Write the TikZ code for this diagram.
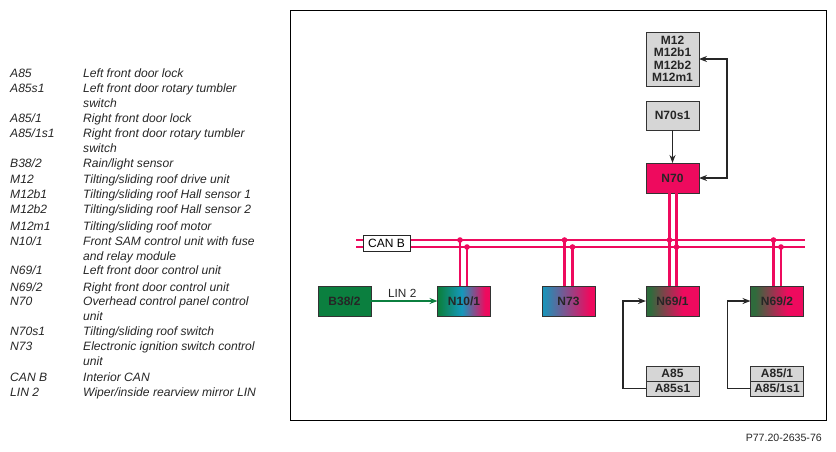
\documentclass[tikz,border=0pt]{standalone}
\usepackage{fontspec}
\setmainfont{Liberation Sans}
\usepackage{xcolor}
\usetikzlibrary{positioning,calc,arrows.meta}

\definecolor{canpink}{HTML}{EE0A5E}
\definecolor{lingreen}{HTML}{0B7F3F}
\definecolor{midteal}{HTML}{1598BC}
\definecolor{darkgreen}{HTML}{2F6B3C}
\definecolor{unitgray}{HTML}{D6D6D6}

\pgfdeclarehorizontalshading{samshade}{100bp}{color(0bp)=(lingreen); color(26bp)=(lingreen); color(48bp)=(midteal); color(70bp)=(canpink); color(100bp)=(canpink)}
\pgfdeclarehorizontalshading{ignshade}{100bp}{color(0bp)=(midteal); color(25bp)=(midteal); color(70bp)=(canpink); color(100bp)=(canpink)}
\pgfdeclarehorizontalshading{doorshade}{100bp}{color(0bp)=(darkgreen); color(29bp)=(darkgreen); color(60bp)=(canpink); color(100bp)=(canpink)}

\begin{document}
\begin{tikzpicture}[x=1pt, y=-1pt, >={Stealth[length=8pt,width=6pt]},
    box/.style={draw=black!80, line width=1pt, inner sep=0pt, outer sep=0pt, minimum width=53pt, align=center, font=\fontsize{12}{12.4}\selectfont\bfseries, text=black!85},
    unit/.style={box, fill=unitgray},
    ctrl/.style={box, minimum height=30pt},
    half/.style={unit, minimum height=15pt},
    bus/.style={canpink, line width=2.1pt},
    link/.style={black!85, line width=1.3pt},
    legend/.style={anchor=north west, inner sep=0pt, align=left, font=\fontsize{12.1}{14.6}\selectfont\itshape, text=black!85}]
\useasboundingbox (0,0) rectangle (836,451);

\node[draw, line width=1pt, inner sep=0pt, minimum width=536pt, minimum height=410pt] (panel) at (558.5,215) {};

% legend
\foreach \key/\desc/\ypos [count=\i] in {
    A85/Left front door lock/68.5,
    A85s1/{Left front door rotary tumbler\\switch}/83.5,
    A85\slash 1/Right front door lock/113.5,
    A85\slash 1s1/{Right front door rotary tumbler\\switch}/128.5,
    B38\slash 2/Rain\slash light sensor/159,
    M12/Tilting\slash sliding roof drive unit/174.5,
    M12b1/Tilting\slash sliding roof Hall sensor 1/190,
    M12b2/Tilting\slash sliding roof Hall sensor 2/204.5,
    M12m1/Tilting\slash sliding roof motor/221.5,
    N10\slash 1/{Front SAM control unit with fuse\\and relay module}/237,
    N69\slash 1/Left front door control unit/266,
    N69\slash 2/Right front door control unit/282.5,
    N70/{Overhead control panel control\\unit}/297,
    N70s1/Tilting\slash sliding roof switch/327,
    N73/{Electronic ignition switch control\\unit}/342,
    CAN B/Interior CAN/372.5,
    LIN 2/Wiper\slash inside rearview mirror LIN/388} {
  \node[legend] (key\i) at (10,\ypos) {\key};
  \node[legend] (desc\i) at (83,\ypos) {\desc};
}

% control units
\node[ctrl, fill=canpink] (N70) at (672.5,178) {N70};
\node[unit, minimum height=29pt, above=33pt of N70] (N70s1) {N70s1};
\node[unit, minimum height=54pt, above=15pt of N70s1] (M12) {M12\\M12b1\\M12b2\\M12m1};
\node[ctrl, shading=doorshade, below=93pt of N70] (N691) {N69/1};
\node[ctrl, shading=doorshade, right=51.5pt of N691] (N692) {N69/2};
\node[ctrl, shading=ignshade, left=51pt of N691] (N73) {N73};
\node[ctrl, shading=samshade, left=51.5pt of N73] (N101) {N10/1};
\node[ctrl, fill=lingreen, left=66.5pt of N101] (B38) {B38/2};

% door switches
\node[half, below=50pt of N691] (A85) {A85};
\node[half, below=0pt of A85] (A85s1) {A85s1};
\node[half, below=50pt of N692] (A851) {A85/1};
\node[half, below=0pt of A851] (A851s1) {A85/1s1};

% CAN B
\coordinate (canaw) at (356,240);
\coordinate (canae) at (805,240);
\coordinate (canbw) at (356,247);
\coordinate (canbe) at (805,247);
\draw[bus] (canaw) -- (canae);
\draw[bus] (canbw) -- (canbe);
\node[draw=black!85, fill=white, line width=1pt, inner sep=0pt, minimum width=47pt, minimum height=16pt, font=\fontsize{12}{12}\selectfont] (canb) at (386.5,243.5) {CAN B};

\foreach \unit/\ashift/\bshift in {N101/-4/3, N73/-4/4, N692/-3.5/4} {
  \draw[bus] ([xshift=\ashift]\unit.north) -- ([xshift=\ashift]\unit.north |- canaw);
  \draw[bus] ([xshift=\bshift]\unit.north) -- ([xshift=\bshift]\unit.north |- canbw);
  \fill[canpink] ([xshift=\ashift]\unit.north |- canaw) circle (2.8);
  \fill[canpink] ([xshift=\bshift]\unit.north |- canbw) circle (2.8);
}
\draw[bus] ([xshift=-3]N70.south) -- ([xshift=-3]N691.north);
\draw[bus] ([xshift=4]N70.south) -- ([xshift=4]N691.north);
\fill[canpink] ([xshift=-3]N691.north |- canaw) circle (2.8);
\fill[canpink] ([xshift=4]N691.north |- canbw) circle (2.8);

% links
\draw[->, lingreen, line width=1.2pt] (B38) -- node[above=0pt, xshift=-2pt, text=black!85, font=\fontsize{11.8}{12}\selectfont] (lin) {LIN 2} (N101);
\draw[->, link] (N70s1) -- (N70);
\draw[<->, link] (M12.east) -- ++(28,0) |- (N70.east);
\draw[->, link] (A85s1.west) -- ++(-23,0) |- (N691.west);
\draw[->, link] (A851s1.west) -- ++(-23,0) |- (N692.west);

\node[anchor=east, inner sep=0pt, font=\fontsize{10.6}{12}\selectfont, text=black!85] (code) at (822,438) {P77.20-2635-76};
\end{tikzpicture}
\end{document}
